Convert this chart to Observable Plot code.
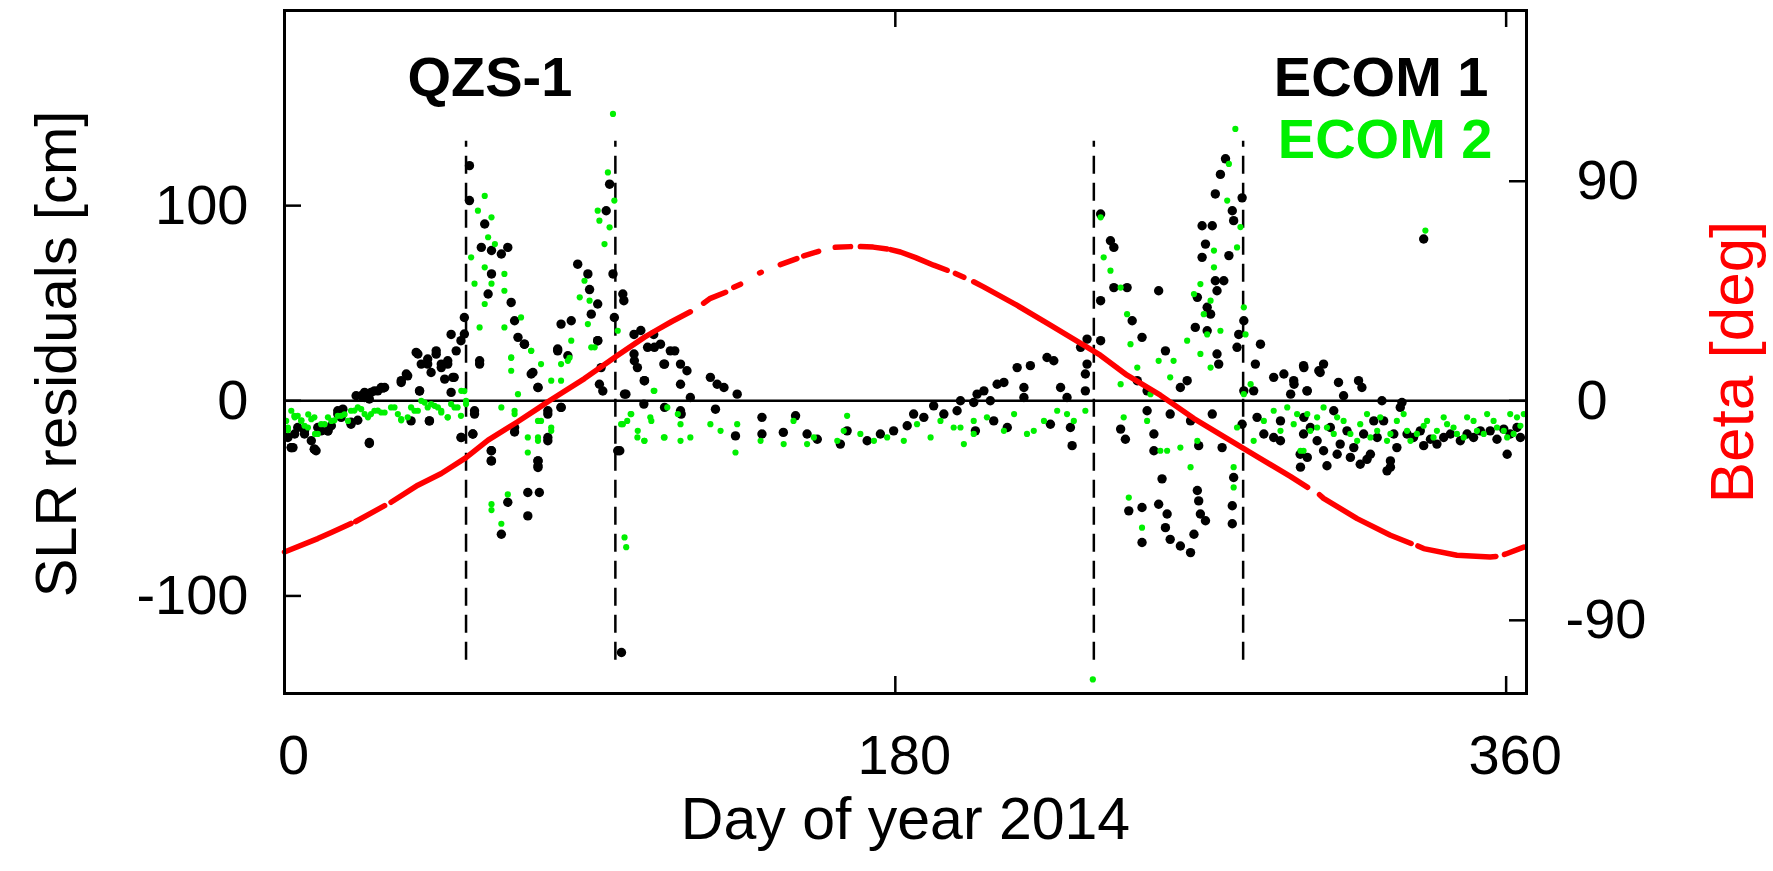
<!DOCTYPE html>
<html>
<head>
<meta charset="utf-8">
<script src="https://cdn.jsdelivr.net/npm/d3@7"></script>
<script src="https://cdn.jsdelivr.net/npm/@observablehq/plot@0.6"></script>
<style>
  html, body { margin: 0; padding: 0; background: #ffffff; }
  svg { display: block; }
</style>
</head>
<body>
<div id="chart"></div>
<script>
// ---------- data ----------
// SLR residuals, ECOM 1 (black): [day of year, residual cm]
const ecom1 = [
  [1,-18.8],[2,-24],[2.5,-24],[3,-17],[3.9,-13.7],[5.9,-17],[7.9,-20.5],[8.8,-24.8],[9.3,-25.6],[10.8,-15.4],
  [12.8,-15.4],[13.8,-12.8],[15.7,-6.8],[16.7,-8.5],[19.6,-11],[21.6,-10],[22.6,2.6],[23.6,1.7],[25,-21.4],[25.5,4.3],
  [27.5,5.1],[28.5,6.8],[29.5,6.8],[34.4,9.4],[36.3,12.8],[39.3,24],[39.8,5],[42.2,18.8],[42.7,-10.3],[44.7,25.6],
  [46.2,17],[48.1,20.5],[49.1,34],[50,12],[52,30.8],[52,-18.8],[53,42.7],[54.5,120.5],[54.5,102.6],[55.5,-17],
  [56,-6.8],[57.5,20.5],[58,78.6],[59,90.6],[60,54.7],[61,77],[61,65],[61,-25.6],[61,-30.8],[63.9,75.2],
  [63.9,-68.4],[65.8,78.6],[65.8,-52],[66.8,50.4],[67.8,41],[67.8,-16],[70.7,29],[71.7,-47],[71.7,-59],[72.7,13.7],
  [74.7,6.8],[74.7,-30.8],[74.7,-33.3],[75.1,-47],[77.6,-20.5],[77.6,-6.8],[80.5,26.5],[81.5,39.3],[81.5,-3.4],[84.5,41],
  [86.4,70],[89.4,65],[89.9,57],[90.4,44.4],[92.3,49.6],[92.3,30.8],[93.3,17],[93.8,5],[94.8,97.4],[95.8,111],
  [96.8,65],[97.2,42.7],[98.8,-25.6],[99.3,-129],[99.7,54.7],[100,51.3],[100.6,3.4],[103,34],[103,24],[104,17],
  [105,36],[106,10.3],[105.9,-1.7],[107,27.4],[108.8,34],[110.8,29],[111.8,18.8],[113.7,25.6],[116.7,18.8],[116.7,8.5],
  [116.7,-5.1],[118.6,15.4],[119.6,1.7],[125.5,12],[127,-4.3],[127.5,8.5],[129.5,6.8],[132.9,-18],[133.4,3.4],[140.7,-8.5],
  [140.7,-17],[147,-16.2],[150.6,-7.7],[154,-17],[157,-19.7],[163.8,-22.2],[165.8,-15.4],[171.7,-20.5],[175.6,-17],[179.5,-15.4],
  [183.5,-12.8],[185.4,-6.8],[188.4,-8.5],[191.3,-2.6],[194.3,-6.8],[198.2,-5.1],[199.2,0],[204.1,3.4],
  [2,-24],[8.8,-24.8],[5.9,-15.4],[9.8,-13.7],[12.8,-15.4],[15.7,-5.1],[17.2,-4.3],[19.6,-12],[21.1,2.6],[23.6,4.3],
  [25,0.9],[26.5,5.1],[29,6.5],[25,-21.9],[34.4,10.3],[35.9,13.7],[38.8,24.8],[40.3,18.8],[42.2,21.4],[43.2,14.5],
  [44.7,23.9],[46.2,18.8],[47.2,11.1],[48.1,18.8],[49.6,12],[50.6,25.6],[42.7,-10.3],[39.8,5.1],[37.3,-10.3],[49.1,4.3],
  [52.1,-18.8],[53,34.2],[55.5,-17],[56,-5.1],[57.5,18.8],[60.9,-25.6],[60.9,-30.8],[67.8,-13.7],[68.8,32.5],[70.7,29],
  [73.2,14.5],[74.7,6.8],[74.7,-30.8],[74.7,-34.2],[77.6,-18.8],[77.6,-5.1],[80.5,25.6],[81.5,-3.4],[83.5,23.1],[92.3,30.8],
  [92.8,8.5],[98.2,-25.6],[100.2,3.4],[103.1,20.5],[106.1,10.3],[109,27.4],[112,18.8],[112,-3.4],[115,25.6],[116.9,-6.8],
  [203.1,-0.9],[206.1,5.1],[208,0],[210,8.5],[212,9.4],[203.6,-15.4],[209,-10.3],[213,-13.7],[215.9,17],[217.9,6.8],
  [217.9,1.7],[219.8,18],[224.7,22.2],[226.7,20.5],[225.7,-12],[228.7,6.8],[230.6,1.7],[231.6,-13.7],[232.1,-23],[234.6,27.4],
  [236.5,31.6],[236,13.7],[236,5.1],[236.5,18.8],[240.5,95.7],[240.5,51.3],[240.5,30.8],[243.4,82],[244.4,78.6],[244.4,58],
  [248.3,58],[246.4,-14.5],[247.8,-19.7],[249.8,41],[252.7,32.5],[251.3,10.3],[252.7,-54.7],[248.8,-56.4],[252.7,-72.6],[254.2,5.1],
  [254.2,-5.1],[256.2,-17],[256.2,-25.6],[257.6,56.4],[257.6,-53],[258.6,-40],[259.6,25.6],[260.1,-58],[259.6,-65],[261,-6.8],
  [261,-71],[264,-74.4],[264,6.8],[266,10.3],[267,-77.8],[267,-10.3],[268,-68.4],[269,-46],[269.4,-51.3],[269.9,-58],
  [271.4,-61.5],[269,53],[268.4,37.6],[269.4,-23],[270.4,89.7],[270.4,73.5],[271.4,80.3],[271.9,47.9],[272.9,44.4],[271.9,35.9],
  [273.4,89.7],[274.3,61.5],[274.8,56.4],[274.8,24],[275.3,18.8],[274.3,106],[275.8,116],[277.3,124],[276.8,61.5],[278.3,74.4],
  [279.3,97.4],[279.7,92.3],[282.2,104],[279.3,-53.8],[279.3,-63],[279.7,-39.3],[280.7,27.4],[281.2,34],[282.7,41],[276.3,-24],
  [273.4,-6.8],[282.7,5.1],[282.2,-12],[286.1,18.8],[287.6,29],[285.6,5.1],[286.6,-8.5],[288.6,-17],[291.5,12],[291.5,-18.8],
  [293.5,-10.3],[294.5,13.7],[296.5,3.4],[297.5,8.5],[300.4,17],[301.4,5.1],[299.4,-34],[301.4,-29],[293.5,-20.5],[300.4,-8.5],
  [304.8,15.4],
  [335.7,82.9],[300.3,18],[306.2,18.8],[305.2,14.5],[310.6,9.4],[316.5,10.3],[317.5,6.8],[312.1,2.6],[323.4,0],[329.3,-0.9],
  [301.3,5.1],[300.3,-17],[306.2,-25.6],[307.2,-33.3],[311.1,-22.2],[314.1,-29],[317,-32.5],[320,-27.4],[324.9,-35.9],[325.9,-30.8],
  [327.8,-24],[335.7,-23],[341.6,-18.8],[348.5,-17],[355.3,-15.4],[360.3,-27.4],[363.2,-13.7],[309.2,-5.1],[321,-10.3],[330.8,-17],
  [297.4,10.3],[299.3,-27.4],[302.3,-13.7],[304.3,-20.5],[308.2,-13.7],[310.2,-27.4],[313.1,-15.4],[315.1,-24],[318,-17],[319,-30],
  [322,-18.8],[323.9,-10.3],[325.9,-34],[326.9,-17],[328.8,-3.4],[332.7,-18.8],[334.7,-15.4],[337.7,-19.7],[339.6,-22.2],[343.6,-17],
  [346.5,-20.5],[350.4,-18.8],[352.4,-15.4],[357.3,-19.7],[359.3,-14.5],[361.2,-17],[364.2,-18.8]
];

// SLR residuals, ECOM 2 (green): [day of year, residual cm]
const ecom2 = [
  [0.5,-10.3],[1,-15],[2,-5.1],[3,-8.5],[3.9,-7.7],[5,-10],[5.9,-12.8],[7,-7],[7.9,-9.4],[9,-17],
  [9.8,-17],[11.8,-12],[12.8,-8.5],[14.7,-10],[15.7,-7.7],[17.7,-7],[18.7,-10.3],[20.6,-5],[22.6,-4.3],[24.6,-8.5],
  [25.5,-6.8],[27.5,-5],[29.5,-6],[31.4,-3.4],[33.4,-6.8],[34.4,-10],[36.3,-8.5],[37.3,-3.4],[39.3,-5.1],[40.3,0],
  [42.2,-3.4],[43.2,-1.7],[45.2,-3.4],[46.2,-6],[48.1,-8.5],[49.1,-1.7],[51,-3.4],[52,-7.7],[53,5],[53.5,0],
  [1,-13.7],[2.9,-7.7],[4.9,-10.3],[6.9,-13.7],[8.8,-8.5],[10.8,-12],[13.8,-10.3],[16.7,-7.7],[19.6,-5.1],[21.6,-3.4],
  [23.6,-6.8],[26.5,-5.1],[28.5,-6],[32.4,-3.4],[34.4,-9.4],[38.3,-5.1],[41.3,-0.9],[44.2,-2.6],[46.2,-5.1],[48.1,-8.5],
  [50.1,-3.4],[52.1,5.1],[53.5,-1.7],
  [55,73.5],[56,60],[57,97.4],[57.5,37.6],[59,105],[59,68.4],[59,49.6],[60,83.8],[61,94],[61,60],
  [61,-53],[61,-56],[62,80.3],[63.9,-3.4],[63.9,-63],[64.8,65],[64.8,56.4],[64.8,37.6],[65.8,-48],[66.8,22],
  [66.8,15.4],[67.8,-6.8],[68.8,3.4],[69.7,42.7],[71.7,-18.8],[71.7,-26.5],[72.7,25.6],[74.7,-10.3],[74.7,-18.8],[75.6,18.8],
  [78.6,-15.4],[78.6,10.3],[81.5,18.8],[84,22],[84.5,30.8],[87,53],[88.4,61.5],[89.4,39.3],[89.9,51.3],[91.4,27.4],
  [92.3,97.4],[92.8,92.3],[94.3,80.3],[95.3,117],[95.8,88.9],[96.8,147],[97.2,102.6],[98.2,35.9],[99.7,-12],[100.2,-70],
  [100.7,-75],[102,-6.8],[104,-18.8],
  [66.8,22.2],[67.8,-5.1],[72.7,25.6],[75.6,-10.3],[74.7,-20.5],[78.6,-13.7],[81.5,10.3],[83.5,20.5],[90.4,27.4],[99.2,-12],
  [102.2,-6.8],[104.1,-15.4],[106.1,-20.5],[108.1,-10.3],[109,5.1],[112,-18.8],[115.9,-6.8],
  [101,-10.3],[106,-20.5],[107.8,-8.5],[108.8,5.1],[111.8,-18.8],[112.8,-3.4],[116.7,-20.5],[116.7,-12],[119.6,-18.8],[125.5,-12],
  [128.5,-15.4],[132.9,-26.5],[133.4,-12],[140.3,-20.5],[147.1,-22.2],[150,-10.3],[154,-22.2],[156,-18.8],[162.9,-20.5],[164.8,-15.4],
  [165.8,-7.7],[169.7,-17],[173.7,-20.5],[177.6,-18.8],[182.5,-20.5],[186.4,-12],[190.4,-18.8],[193.3,-10.3],[197.2,-13.7],[200.2,-22.2],
  [203.1,-10.3],
  [199.2,-13.7],[203.1,-17],[207,-8.5],[212,-15.4],[215,-6.8],[218.8,-17],[220.8,-15.4],[223.8,-10.3],[227.7,-5.1],[230.6,-6.8],
  [232.6,-10.3],[236,-5.1],[238.2,-142.8],[240.5,94],[241.4,73.5],[243.4,66.7],[246.4,58],[246.4,8.5],[247.3,-8.5],[248.3,44.4],
  [248.8,-49.6],[249.3,29],[251.3,17],[252.7,-65],[254.2,-10.3],[255.2,3.4],[257.6,20.5],[258.1,-25.6],[260.1,-25.6],[261,12],
  [262,20.5],[264,-24],[266,30.8],[267,-34],[268,54.7],[269,-20.5],[269.9,59.8],[269.9,24],[270.9,44.4],[271.9,34],
  [272.9,51.3],[272.9,17],[273.9,77],[273.9,68.4],[275.8,35.9],[277.8,102.6],[278.3,121.4],[279.7,-34],[279.7,-44.4],[280.2,139.3],
  [280.7,78.6],[280.7,-13.7],[281.7,89],[282.7,47.9],[282.7,3.4],[283.2,34],[284.7,8.5],[285.6,-20.5],[288.6,-10.3],[291.5,-5.1],
  [293.5,-15.4],[295.5,-3.4],[297.4,-12],[299.4,-25.6],[301.4,-6.8],[304.3,-13.7],
  [336.2,87.2],[298.4,-6.8],[300.3,-25.6],[306.2,-3.4],[309.2,-17],[312.1,-10.3],[316.1,-20.5],[319,-6.8],[322,-15.4],[324.9,-20.5],
  [327.8,-10.3],[330.8,-15.4],[333.7,-17],[336.7,-10.3],[339.6,-15.4],[342.6,-12],[345.5,-17],[348.5,-8.5],[351.4,-15.4],[354.4,-6.8],
  [357.3,-13.7],[360.3,-18.8],[363.2,-8.5],[365.2,-6.8],[362.2,-17],
  [302.3,-15.4],[304.3,-8.5],[307.2,-13.7],[310.2,-8.5],[314.1,-17],[317,-12],[320,-18.8],[322.9,-8.5],[325.9,-17],[329.8,-6.8],
  [331.8,-20.5],[335.7,-12.8],[338.6,-18.8],[341.6,-8.5],[344.5,-13.7],[347.5,-18.8],[350.4,-10.3],[353.4,-17],[356.3,-10.3],[359.3,-15.4],
  [361.2,-6.8],[364.2,-12.8]
];

// Beta angle (red, right axis): [day of year, beta deg]; null = gap in the trace
const beta = [
  [0,-62],[9.8,-56.5],[13.8,-54],[19.6,-50.3],[20.3,null],[21,-49.5],[29.5,-43],[30.4,null],[31.4,-41.6],[39.3,-34.6],
  [46.2,-29.8],[53.5,-23.3],[60,-16.1],[68.7,-8.6],[74.6,-3.2],[77.6,-0.4],[88.4,9.1],[98.2,18.7],[106,26],[108.8,28.3],
  [114,32.4],[119.6,36.5],[121,null],[123.5,40],[125.5,42],[130,44.5],[131,null],[132.4,46.5],[134.4,47.8],[137,null],
  [140,52.4],[140.5,52.7],[143,null],[146.1,55.8],[151,58.3],[152,null],[153,59.4],[157.4,61.3],[160,null],[162.3,62.9],
  [166.8,63.2],[168,null],[169.7,63.2],[173.5,63],[177.6,62.2],[178.1,null],[178.6,62],[181.5,61],[186,58.7],[191.3,55.6],
  [195.3,53.5],[196.5,null],[197.7,52.2],[200.2,50.6],[201.5,null],[203.1,48.8],[206,46.7],[215.8,39.2],[225.7,31],[235.5,22.8],
  [240.4,18.7],[248.3,10.5],[258.1,2.3],[268,-7.3],[277.8,-15.5],[287.6,-23.7],[296.4,-31],[301.5,-35.5],[303.2,null],[305,-38.5],
  [306.2,-40],[316.1,-48.3],[325.9,-55.1],[332,-58.5],[333,null],[334,-59.5],[335.7,-60.6],[345.5,-63.3],[355.3,-64],[357,-63.8],
  [358.3,null],[359.5,-63],[360.3,-62.6],[365.2,-60]
];

const eclipseDays = [53.5, 97.5, 238.5, 282.5];   // dashed vertical markers
const eclipseSpan = [-133, 133];                  // their extent in cm
const xTicks = [0, 180, 360];
const yTicks = [-100, 0, 100];
const betaTicks = [-90, 0, 90];
const betaToCm = 1.25;                            // right axis: 90 deg <-> 112.5 cm

// ---------- layout / style ----------
const W = 1773, H = 871;
const mL = 284, mR = 247, mT = 10, mB = 178;
const pw = W - mL - mR, ph = H - mT - mB;
const tickLen = 17;
const green = "#00f000";
const red = "#ff0000";
const font = "'Liberation Sans', Arial, Helvetica, sans-serif";

const chart = Plot.plot({
  width: W, height: H,
  marginLeft: mL, marginRight: mR, marginTop: mT, marginBottom: mB,
  x: {domain: [0, 366], axis: null},
  y: {domain: [-150, 200], axis: null},
  style: {fontFamily: font, background: "#ffffff", color: "#000000", overflow: "visible"},
  marks: [
    Plot.ruleY([0], {stroke: "#000", strokeWidth: 2.5}),
    Plot.ruleX(eclipseDays, {x: d => d, y1: eclipseSpan[0], y2: eclipseSpan[1], stroke: "#000", strokeWidth: 2.5, strokeDasharray: "18,9"}),
    Plot.dot(ecom1, {x: d => d[0], y: d => d[1], r: 4.7, fill: "#000", stroke: "none"}),
    Plot.dot(ecom2, {x: d => d[0], y: d => d[1], r: 3.1, fill: green, stroke: "none"}),
    Plot.line(beta, {x: d => d[0], y: d => d[1] == null ? NaN : d[1] * betaToCm, stroke: red, strokeWidth: 5.5, strokeLinecap: "round", strokeLinejoin: "round"}),
    // inward ticks
    Plot.tickY(yTicks, {y: d => d, insetRight: pw - tickLen, stroke: "#000", strokeWidth: 2.5}),
    Plot.tickY(betaTicks, {y: d => d * betaToCm, insetLeft: pw - tickLen, stroke: "#000", strokeWidth: 2.5}),
    Plot.tickX(xTicks, {x: d => d, insetTop: ph - tickLen, stroke: "#000", strokeWidth: 2.5}),
    Plot.tickX(xTicks, {x: d => d, insetBottom: ph - tickLen, stroke: "#000", strokeWidth: 2.5}),
    Plot.frame({stroke: "#000", strokeWidth: 3}),
    // tick labels
    Plot.text(yTicks, {y: d => d, text: d => String(d), frameAnchor: "left", dx: -36, textAnchor: "end", lineAnchor: "middle", fontSize: 56}),
    Plot.text(betaTicks.filter(d => d >= 0), {y: d => d * betaToCm, text: d => String(d), frameAnchor: "right", dx: 50, textAnchor: "start", lineAnchor: "middle", fontSize: 56}),
    Plot.text(betaTicks.filter(d => d < 0), {y: d => d * betaToCm, text: d => String(d), frameAnchor: "right", dx: 39, textAnchor: "start", lineAnchor: "middle", fontSize: 56}),
    Plot.text(xTicks, {x: d => d, text: d => String(d), frameAnchor: "bottom", dx: 9, dy: 80, textAnchor: "middle", lineAnchor: "bottom", fontSize: 56}),
    // axis titles
    Plot.text(["Day of year 2014"], {text: d => d, frameAnchor: "bottom", dy: 145, textAnchor: "middle", lineAnchor: "bottom", fontSize: 59}),
    Plot.text(["SLR residuals [cm]"], {text: d => d, frameAnchor: "left", dx: -209, dy: 2, rotate: -90, textAnchor: "middle", lineAnchor: "bottom", fontSize: 58}),
    Plot.text(["Beta [deg]"], {text: d => d, frameAnchor: "right", dx: 226, dy: 10, rotate: -90, textAnchor: "middle", lineAnchor: "bottom", fontSize: 62, fill: red}),
    // in-plot labels
    Plot.text(["QZS-1"], {text: d => d, frameAnchor: "top-left", dx: 123, dy: 85, textAnchor: "start", lineAnchor: "bottom", fontSize: 56, fontWeight: "bold"}),
    Plot.text(["ECOM 1"], {text: d => d, frameAnchor: "top-right", dx: -38, dy: 85, textAnchor: "end", lineAnchor: "bottom", fontSize: 56, fontWeight: "bold"}),
    Plot.text(["ECOM 2"], {text: d => d, frameAnchor: "top-right", dx: -34, dy: 147, textAnchor: "end", lineAnchor: "bottom", fontSize: 56, fontWeight: "bold", fill: green})
  ]
});

document.getElementById("chart").appendChild(chart);
</script>
</body>
</html>
